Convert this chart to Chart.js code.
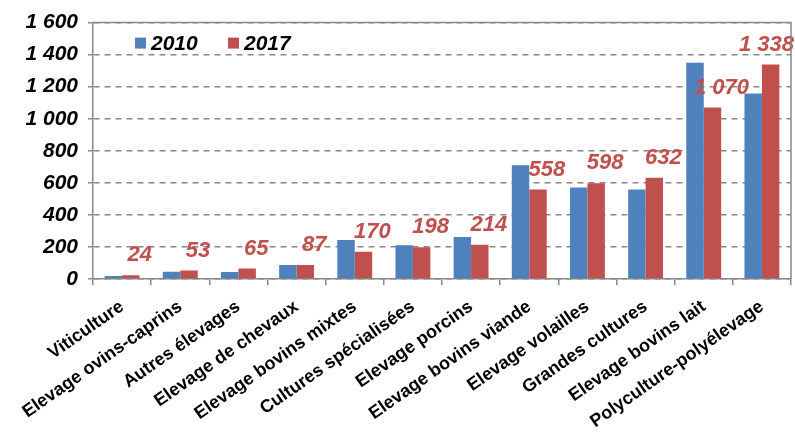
<!DOCTYPE html>
<html>
<head>
<meta charset="utf-8">
<script src="https://cdn.jsdelivr.net/npm/chart.js@4"></script>
<style>
  html,body{margin:0;padding:0;background:#fff;}
  #wrap{width:795px;height:432px;}
</style>
</head>
<body>
<div id="wrap"><canvas id="chart" width="795" height="432"></canvas></div>
<script>
// ---------------- DATA ----------------
const categories=["Viticulture","Elevage ovins-caprins","Autres élevages","Elevage de chevaux","Elevage bovins mixtes","Cultures spécialisées","Elevage porcins","Elevage bovins viande","Elevage volailles","Grandes cultures","Elevage bovins lait","Polyculture-polyélevage"];
const seriesNames=["2010","2017"];
const values2010=[18,45,43,88,243,210,262,710,571,558,1349,1158];
const values2017=[24,53,65,87,170,198,214,558,598,632,1070,1338];
const yTicks=[0,200,400,600,800,1000,1200,1400,1600];

const BLUE="#4F81BD", RED="#C0504D";
const FONT="'Liberation Sans', Arial, sans-serif";

function fmt(v){return String(v).replace(/\B(?=(\d{3})+(?!\d))/g," ");}

// frame round the plot area + inner legend
const framePlugin={
  id:"frame",
  afterDraw(chart){
    const {ctx,chartArea:a}=chart;
    ctx.save();
    ctx.strokeStyle="#888";ctx.lineWidth=1.5;
    ctx.beginPath();
    ctx.moveTo(a.left,a.top);ctx.lineTo(a.right,a.top);ctx.lineTo(a.right,a.bottom);
    ctx.stroke();
    // legend
    ctx.font="italic bold 21px "+FONT;
    ctx.textBaseline="alphabetic";
    let x=a.left+42;
    [BLUE,RED].forEach((c,i)=>{
      ctx.fillStyle=c;ctx.fillRect(x,a.top+15,11,11);
      ctx.fillStyle="#000";ctx.fillText(seriesNames[i],x+16,a.top+27);
      x+=93;
    });
    ctx.restore();
  }
};

// red value labels above 2017 bars
const labelPlugin={
  id:"vlabels",
  afterDatasetsDraw(chart){
    const {ctx}=chart;
    const meta=chart.getDatasetMeta(1);
    ctx.save();
    ctx.font="italic bold 22px "+FONT;
    ctx.fillStyle=RED;
    ctx.textAlign="center";ctx.textBaseline="alphabetic";
    meta.data.forEach((bar,i)=>{
      const t=fmt(values2017[i]);
      const w=ctx.measureText(t).width;
      let cx=bar.x+9;
      if(cx+w/2>chart.width-1) cx=chart.width-1-w/2;
      ctx.fillText(t,cx,bar.y-14);
    });
    ctx.restore();
  }
};

new Chart(document.getElementById("chart"),{
  type:"bar",
  data:{
    labels:categories,
    datasets:[
      {label:seriesNames[0],data:values2010,backgroundColor:BLUE,categoryPercentage:0.6,barPercentage:1.0},
      {label:seriesNames[1],data:values2017,backgroundColor:RED,categoryPercentage:0.6,barPercentage:1.0}
    ]
  },
  options:{
    responsive:false,
    animation:false,
    layout:{padding:{top:22,right:4,left:0,bottom:0}},
    plugins:{legend:{display:false},tooltip:{enabled:false}},
    scales:{
      x:{
        grid:{display:true,drawOnChartArea:false,drawTicks:true,tickLength:6,color:"#888",lineWidth:1.5,offset:true},
        border:{color:"#888",width:1.5},
        ticks:{color:"#000",font:{family:FONT,size:18,weight:"bold"},maxRotation:35,minRotation:35,autoSkip:false,padding:11},
        afterFit(s){s.height=153;}
      },
      y:{
        min:0,max:1600,
        afterBuildTicks(s){s.ticks=yTicks.map(v=>({value:v}));},
        grid:{color:"#888",lineWidth:1.5,tickLength:5},
        border:{color:"#888",width:1.5,dash:[6,5]},
        ticks:{color:"#000",font:{family:FONT,size:21,weight:"bold",style:"italic"},padding:10,callback:v=>fmt(v)},
        afterFit(s){s.width=93;}
      }
    }
  },
  plugins:[framePlugin,labelPlugin]
});
</script>
</body>
</html>
